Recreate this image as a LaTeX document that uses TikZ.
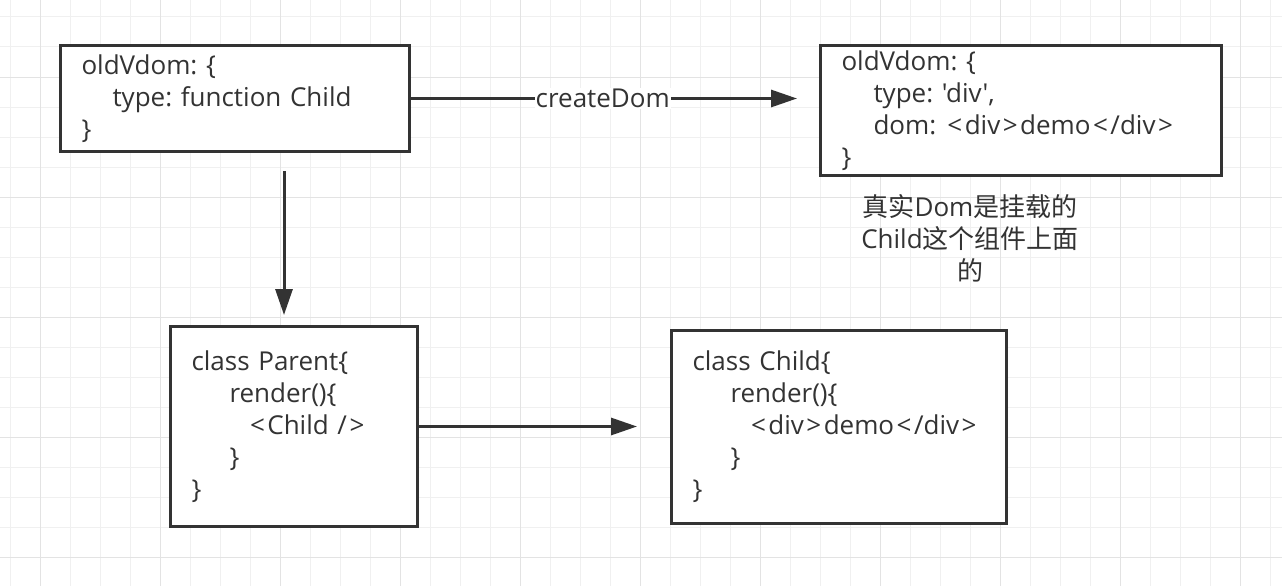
\documentclass[tikz,border=0pt]{standalone}
\usepackage{fontspec}
\setmainfont{Open Sans}[Ligatures=TeXOff]
\newfontfamily\cjk{Noto Sans CJK SC}
\usetikzlibrary{arrows.meta,positioning}
\definecolor{ink}{HTML}{333333}
\definecolor{gridminor}{HTML}{F0F0F0}
\definecolor{gridmajor}{HTML}{E3E3E3}
\newcommand{\ltag}{\kern2.5pt<\kern2.5pt}
\newcommand{\rtag}{\kern2.5pt>\kern2.5pt}
\frenchspacing

\begin{document}
\begin{tikzpicture}[x=1pt, y=-1pt, font=\fontsize{26}{32}\selectfont, text=ink, line/.style={draw=ink, line width=3pt, -{Triangle[length=26pt,width=17pt]}}, block/.style={rectangle,draw=ink,line width=3pt,fill=white,align=left,inner xsep=21pt,inner ysep=0pt}, note/.style={align=center,inner sep=0pt}]
\useasboundingbox (0,0) rectangle (1282,586);
\fill[white] (0,0) rectangle (1282,586);
\foreach \x in {10,40,...,1270} \draw[gridminor,line width=1pt] (\x,0) -- (\x,586);
\foreach \y in {17,47,...,577} \draw[gridminor,line width=1pt] (0,\y) -- (1282,\y);
\foreach \x in {40,160,...,1240} \draw[gridmajor,line width=1pt] (\x,0) -- (\x,586);
\foreach \y in {77,197,...,557} \draw[gridmajor,line width=1pt] (0,\y) -- (1282,\y);
\node[block,text width=307pt,minimum height=106pt,anchor=north west] (oldfn) at (59,44) {oldVdom: \{\\\hspace*{31pt}type: function Child\\\}};
\node[block,text width=359pt,minimum height=130pt,right=408pt of oldfn.north east,anchor=north west] (olddiv) {oldVdom: \{\\\hspace*{32pt}type: 'div',\\\hspace*{32pt}dom: \ltag div\rtag demo\ltag /div\rtag\\\}};
\draw[line,shorten >=22pt] (oldfn.east) -- (oldfn.east -| olddiv.west) node[pos=0.47,fill=white,inner sep=1pt] (cdom) {createDom};
\node[note] (mount) at (970,238) {{\cjk 真实}Dom{\cjk 是挂载的}\\Child{\cjk 这个组件上面}\\{\cjk 的}};
\node[block,text width=205pt,minimum height=200pt,below right=172pt and 110pt of oldfn.south west,anchor=north west] (parent) {class Parent\{\\\hspace*{38pt}render()\{\\\hspace*{56pt}\ltag Child /\rtag\\\hspace*{38pt}\}\\\}};
\coordinate (drop) at (284,0);
\draw[line,shorten <=18pt,shorten >=10pt] (oldfn.south -| drop) -- (parent.north -| drop);
\node[block,text width=293pt,minimum height=193pt,right=251pt of parent] (child) {class Child\{\\\hspace*{38pt}render()\{\\\hspace*{56pt}\ltag div\rtag demo\ltag /div\rtag\\\hspace*{38pt}\}\\\}};
\draw[line,shorten >=33pt] (parent.east) -- (parent.east -| child.west);
\end{tikzpicture}
\end{document}
